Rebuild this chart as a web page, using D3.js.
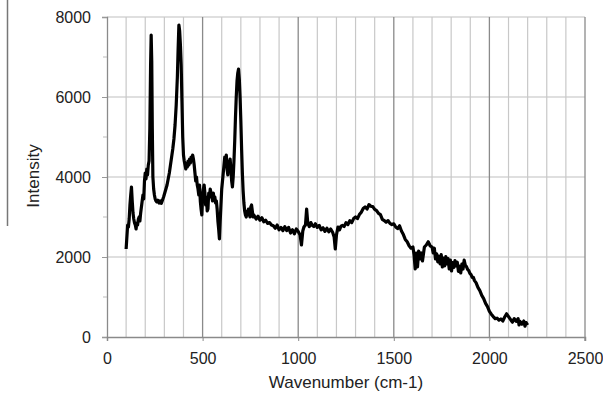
<!DOCTYPE html>
<html>
<head>
<meta charset="utf-8">
<script src="https://cdn.jsdelivr.net/npm/d3@7"></script>
<style>
  body { margin: 0; background: #fff; }
  text { font-family: "Liberation Sans", Arial, sans-serif; fill: #222; }
</style>
</head>
<body>
<div id="chart"></div>
<script>
// spectrum: wavenumber (cm-1) and intensity
const wavenumber = [
  100,104,108,112,116,120,124,128,132,136,140,144,148,152,156,160,164,168,172,176,
  180,184,188,192,196,200,204,208,212,216,220,224,228,231,234,237,240,244,248,252,
  256,260,266,272,278,284,290,296,302,308,314,320,326,332,338,344,350,356,362,368,
  372,376,380,384,388,392,396,400,404,408,412,416,420,424,428,432,436,440,444,448,
  452,456,460,464,468,472,476,480,484,488,492,496,500,504,508,512,516,520,524,528,
  532,536,540,544,548,552,556,560,564,568,572,576,580,584,588,592,596,600,604,608,
  612,616,620,624,628,632,636,640,644,648,652,656,660,664,668,672,676,680,684,688,
  692,696,700,704,708,712,716,720,724,728,732,736,740,744,748,752,756,760,764,768,
  780,790,800,810,820,830,840,850,860,870,880,890,900,910,920,930,940,950,960,970,
  980,990,1000,1010,1017,1024,1030,1038,1044,1050,1058,1066,1074,1082,1090,1100,1110,1120,1130,1140,
  1150,1160,1170,1180,1188,1194,1200,1208,1216,1224,1232,1240,1250,1260,1270,1280,1290,1300,1310,1320,
  1330,1340,1350,1360,1370,1380,1390,1400,1410,1420,1430,1440,1450,1460,1470,1480,1490,1500,1510,1520,
  1530,1540,1550,1560,1570,1580,1590,1600,1606,1612,1618,1624,1630,1636,1644,1650,1660,1670,1680,1690,
  1700,1706,1712,1718,1724,1730,1736,1742,1748,1754,1760,1766,1772,1778,1784,1790,1796,1802,1808,1814,
  1820,1826,1832,1838,1844,1850,1856,1862,1868,1874,1880,1886,1892,1898,1904,1910,1916,1922,1930,1940,
  1950,1960,1970,1980,1990,2000,2010,2020,2030,2040,2050,2060,2070,2080,2090,2100,2110,2120,2130,2140,
  2150,2155,2160,2170,2180,2186,2192,2200
];
const intensity = [
  2200,2500,2800,2750,2950,3300,3550,3750,3400,3100,2950,2850,2800,2700,2850,2800,2950,3000,2900,3100,
  3250,3400,3550,3450,3900,4100,3950,4200,4050,4300,4400,5200,6800,7550,6900,5200,4000,3700,3550,3450,
  3400,3380,3420,3350,3400,3340,3420,3500,3600,3700,3800,3950,4100,4300,4500,4700,4950,5300,5800,6500,
  7200,7800,7650,7300,6800,5900,5000,4550,4400,4300,4200,4350,4250,4400,4300,4450,4350,4500,4400,4550,
  4450,4300,4100,3900,4000,3800,3700,3550,3800,3400,3200,3050,3500,3700,3800,3600,3300,3500,3150,3200,
  3600,3500,3700,3600,3550,3400,3600,3450,3500,3350,3400,3200,2900,2700,2450,2900,3300,3700,3900,4100,
  4300,4500,4350,4550,4200,4050,4400,4300,4450,4200,3900,3750,4000,4400,4900,5500,6000,6400,6600,6700,
  6450,6000,5400,4700,4100,3650,3350,3150,3050,3000,3150,3050,3200,3100,3000,3250,3300,3150,3000,3050,
  2950,3020,2920,2980,2880,2920,2840,2860,2800,2780,2720,2800,2680,2740,2660,2760,2660,2740,2600,2680,
  2580,2700,2640,2550,2300,2650,2750,2800,3200,2850,2760,2860,2790,2760,2830,2740,2790,2680,2730,2640,
  2720,2630,2700,2620,2500,2200,2550,2750,2680,2770,2790,2760,2860,2810,2910,2860,2960,3000,2960,3060,
  3120,3210,3250,3200,3310,3270,3260,3190,3160,3090,3060,2940,2910,2870,2910,2840,2810,2830,2750,2710,
  2780,2650,2560,2440,2380,2280,2220,2250,2050,1700,2100,1750,2150,1950,2100,1900,2250,2300,2380,2280,
  2250,2100,2220,1950,2080,1880,2020,1830,2060,1750,1970,1780,2010,1830,1960,1700,1920,1650,1860,1740,
  1910,1780,1870,1640,1770,1600,1820,1700,1920,1790,1760,1690,1660,1590,1560,1490,1490,1410,1360,1240,
  1160,1040,960,840,760,640,570,510,460,470,420,450,400,500,580,510,440,370,460,390,
  460,300,390,320,400,270,360,300
];

const xTicks = [0, 500, 1000, 1500, 2000, 2500];
const yTicks = [0, 2000, 4000, 6000, 8000];
const yMinorTicks = [1000, 3000, 5000, 7000];
const xGrid = d3.range(100, 2500, 100);

const width = 603, height = 393;
const margin = {top: 17, right: 18, bottom: 56, left: 107};
const w = width - margin.left - margin.right;
const h = height - margin.top - margin.bottom;

const svg = d3.select("#chart").append("svg")
    .attr("width", width)
    .attr("height", height);

// stray rule at the far left of the figure
svg.append("line")
    .attr("x1", 7.5).attr("x2", 7.5)
    .attr("y1", 0).attr("y2", 226)
    .attr("stroke", "#777")
    .attr("stroke-width", 1.5);

const g = svg.append("g")
    .attr("transform", "translate(" + margin.left + "," + margin.top + ")");

const x = d3.scaleLinear().domain([0, 2500]).range([0, w]);
const y = d3.scaleLinear().domain([0, 8000]).range([h, 0]);

// horizontal grid
g.selectAll(".hgrid")
    .data(yTicks.filter(d => d > 0))
  .enter().append("line")
    .attr("x1", 0).attr("x2", w)
    .attr("y1", d => y(d)).attr("y2", d => y(d))
    .attr("stroke", "#d4d4d4")
    .attr("stroke-width", 1.5);

// vertical grid
g.selectAll(".vgrid")
    .data(xGrid)
  .enter().append("line")
    .attr("x1", d => x(d)).attr("x2", d => x(d))
    .attr("y1", 0).attr("y2", h)
    .attr("stroke", d => d % 500 === 0 ? "#8a8a8a" : "#c8c8c8")
    .attr("stroke-width", d => d % 500 === 0 ? 1.3 : 1.2);

// right border
g.append("line")
    .attr("x1", x(2500)).attr("x2", x(2500))
    .attr("y1", 0).attr("y2", h + 4)
    .attr("stroke", "#8a8a8a")
    .attr("stroke-width", 1.3);

// Y axis
const yAxis = g.append("g")
    .call(d3.axisLeft(y).tickValues(yTicks).tickSize(5).tickPadding(11).tickFormat(d3.format("d")));
yAxis.select(".domain").attr("stroke", "#8a8a8a").attr("stroke-width", 1.3);
yAxis.selectAll(".tick line").attr("stroke", "#999");
yAxis.selectAll("text").style("font-size", "16px").attr("fill", "#222");

g.selectAll(".yminor")
    .data(yMinorTicks)
  .enter().append("line")
    .attr("x1", -4).attr("x2", 0)
    .attr("y1", d => y(d)).attr("y2", d => y(d))
    .attr("stroke", "#bbb");

// X axis
const xAxis = g.append("g")
    .attr("transform", "translate(0," + h + ")")
    .call(d3.axisBottom(x).tickValues(xTicks).tickSize(4).tickPadding(12).tickFormat(d3.format("d")));
xAxis.select(".domain").attr("stroke", "#8a8a8a").attr("stroke-width", 1.5);
xAxis.selectAll(".tick line").attr("stroke", "#8a8a8a");
xAxis.selectAll("text").style("font-size", "16px").attr("fill", "#222");

// spectrum
const pts = wavenumber.map((d, i) => [d, intensity[i]]);
g.append("path")
    .datum(pts)
    .attr("fill", "none")
    .attr("stroke", "#000")
    .attr("stroke-width", 3.2)
    .attr("stroke-linejoin", "round")
    .attr("d", d3.line().x(d => x(d[0])).y(d => y(d[1])));

// labels
svg.append("text")
    .attr("x", 346)
    .attr("y", 388)
    .attr("text-anchor", "middle")
    .style("font-size", "17px")
    .text("Wavenumber (cm-1)");

svg.append("text")
    .attr("transform", "translate(39,176) rotate(-90)")
    .attr("text-anchor", "middle")
    .style("font-size", "17px")
    .text("Intensity");
</script>
</body>
</html>
